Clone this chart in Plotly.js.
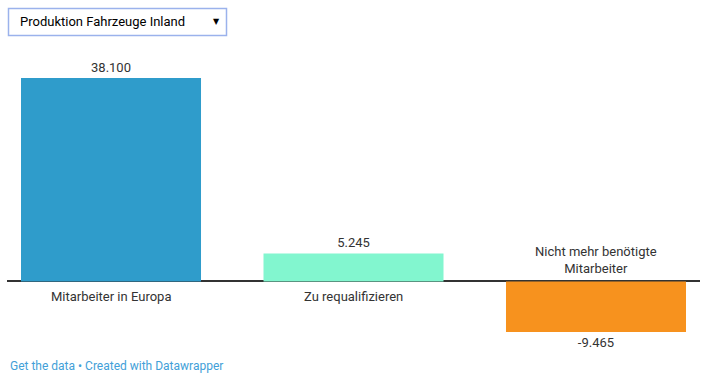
<!DOCTYPE html>
<html>
<head>
<meta charset="utf-8">
<script src="https://cdn.plot.ly/plotly-3.0.1.min.js"></script>
<style>
html,body{margin:0;padding:0;background:#fff;}
#chart{width:708px;height:388px;}
</style>
</head>
<body>
<div id="chart"></div>
<script>
// Data
var categories = ["Mitarbeiter in Europa", "Zu requalifizieren", "Nicht mehr benötigte<br>Mitarbeiter"];
var values = [38100, 5245, -9465];
var barColors = ["#2f9ccb", "#82f6cf", "#f7921e"];
var dropdownLabel = "Produktion Fahrzeuge Inland";
var footerText = "Get the data • Created with Datawrapper";

var positions = categories.map(function(c, i){ return i; });

var trace = {
  type: "bar",
  x: positions,
  y: values,
  width: 0.7423,
  marker: {color: barColors, line: {width: 0}},
  texttemplate: "%{y:,}",
  textposition: "outside",
  textfont: {family: "Roboto", size: 13, color: "#333333"},
  cliponaxis: false,
  hoverinfo: "none"
};

// plot area: x 7..700 (693px), y 78..332 (254px)
function px(x){ return (x - 7) / 693; }
function py(y){ return (332 - y) / 254; }

var annotations = categories.map(function(c, i){
  var neg = values[i] < 0;
  return {
    x: positions[i], y: 0, xref: "x", yref: "y",
    text: c, showarrow: false,
    xanchor: "center",
    yanchor: neg ? "bottom" : "top",
    yshift: neg ? 3 : -6,
    font: {family: "Roboto", size: 13, color: "#333333"}
  };
});
annotations.push({
  xref: "paper", yref: "paper", x: px(8), y: py(366),
  xanchor: "left", yanchor: "middle", showarrow: false,
  text: footerText,
  font: {family: "Roboto", size: 12, color: "#42a0d8"}
});
// dropdown look
annotations.push({
  xref: "paper", yref: "paper", x: px(18), y: py(22),
  xanchor: "left", yanchor: "middle", showarrow: false,
  text: dropdownLabel,
  font: {family: "Roboto", size: 13, color: "#000000"}
});
annotations.push({
  xref: "paper", yref: "paper", x: px(216.5), y: py(21.5),
  xanchor: "center", yanchor: "middle", showarrow: false,
  text: "▼",
  font: {family: "DejaVu Sans", size: 8, color: "#000000"}
});

var layout = {
  width: 708, height: 388,
  margin: {l: 7, r: 8, t: 78, b: 56, pad: 0},
  paper_bgcolor: "#ffffff", plot_bgcolor: "#ffffff",
  separators: ",.",
  showlegend: false,
  font: {family: "Roboto", size: 13, color: "#333333"},
  xaxis: {range: [-0.4289, 2.4289], showgrid: false, showticklabels: false, zeroline: false, showline: false, ticks: "", fixedrange: true},
  yaxis: {range: [-9465, 38100], showgrid: false, showticklabels: false, zeroline: true, zerolinecolor: "#333333", zerolinewidth: 2, showline: false, ticks: "", layer: "above traces", fixedrange: true},
  annotations: annotations,
  shapes: [{
    type: "rect", xref: "paper", yref: "paper",
    x0: px(8.5), x1: px(226.5), y0: py(35.5), y1: py(8.5),
    line: {color: "#9bb2ec", width: 1.5}, fillcolor: "#ffffff", layer: "below"
  }]
};

Plotly.newPlot("chart", [trace], layout, {displayModeBar: false});
</script>
</body>
</html>
